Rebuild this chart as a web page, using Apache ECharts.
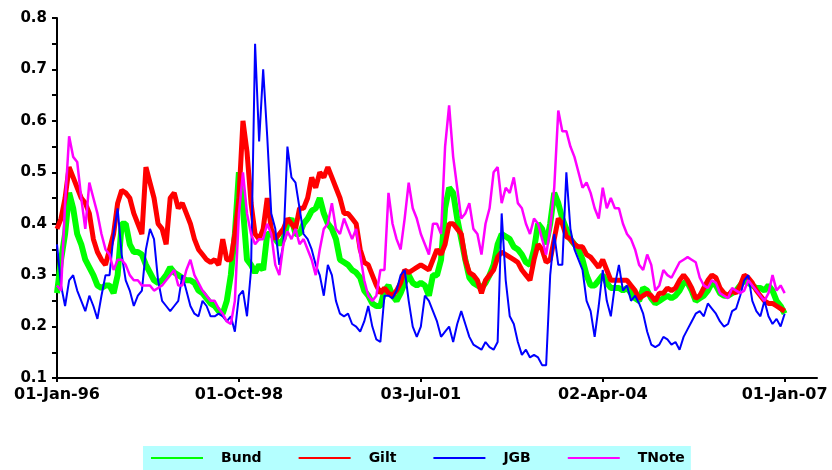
<!DOCTYPE html>
<html><head><meta charset="utf-8">
<script src="https://cdn.jsdelivr.net/npm/echarts@6/dist/echarts.min.js"></script>
<style>html,body{margin:0;padding:0;background:#fff}#c{width:832px;height:470px}</style>
</head><body><div id="c"></div>
<script>
// Tick labels
const xTickLabels = ['01-Jan-96', '01-Oct-98', '03-Jul-01', '02-Apr-04', '01-Jan-07'];
const xTickIndex = [0, 45, 90, 135, 180];
const seriesNames = ['Bund', 'Gilt', 'JGB', 'TNote'];

// Values sampled on an even time grid (181 samples, 01-Jan-96 .. 01-Jan-07)
const bund = [
0.265,0.33,0.38,0.46,0.43,0.38,0.36,0.33,0.315,0.30,0.28,0.275,0.28,0.28,0.265,0.30,0.40,0.40,0.36,0.345,0.345,0.34,0.32,0.305,0.29,0.285,0.29,0.30,0.315,0.305,0.30,0.295,0.29,0.29,0.285,0.27,0.265,0.255,0.245,0.24,0.23,0.225,0.25,0.30,0.38,0.50,
0.43,0.33,0.32,0.305,0.32,0.31,0.38,0.38,0.37,0.36,0.37,0.40,0.41,0.38,0.38,0.40,0.41,0.425,0.43,0.45,0.42,0.40,0.39,0.37,0.33,0.325,0.32,0.31,0.305,0.295,0.27,0.26,0.245,0.24,0.24,0.27,0.28,0.26,0.25,0.265,0.285,0.30,0.285,0.28,0.285,
0.28,0.26,0.30,0.30,0.33,0.43,0.47,0.46,0.41,0.37,0.33,0.295,0.285,0.28,0.275,0.285,0.30,0.32,0.36,0.38,0.375,0.37,0.355,0.35,0.34,0.325,0.32,0.35,0.40,0.39,0.36,0.40,0.46,0.44,0.41,0.39,0.37,0.36,0.35,0.33,0.30,0.28,0.28,0.29,0.30,
0.285,0.275,0.275,0.275,0.27,0.275,0.265,0.255,0.25,0.275,0.27,0.255,0.245,0.25,0.255,0.26,0.255,0.26,0.27,0.285,0.285,0.27,0.25,0.255,0.26,0.27,0.285,0.28,0.265,0.26,0.26,0.265,0.27,0.28,0.29,0.285,0.28,0.275,0.275,0.27,0.28,0.27,0.25,0.24,0.225
];
const gilt = [
0.39,0.41,0.45,0.51,0.49,0.47,0.45,0.44,0.42,0.37,0.345,0.33,0.32,0.35,0.38,0.44,0.465,0.46,0.45,0.42,0.40,0.38,0.51,0.48,0.45,0.40,0.39,0.36,0.45,0.46,0.43,0.44,0.42,0.40,0.37,0.35,0.34,0.33,0.325,0.33,0.32,0.37,0.33,0.33,0.38,0.45,
0.60,0.54,0.44,0.38,0.37,0.39,0.45,0.39,0.37,0.38,0.39,0.41,0.40,0.39,0.43,0.43,0.45,0.49,0.47,0.50,0.49,0.51,0.49,0.47,0.45,0.42,0.42,0.41,0.40,0.35,0.325,0.32,0.30,0.28,0.265,0.275,0.265,0.26,0.27,0.285,0.31,0.305,0.31,0.315,0.32,
0.315,0.31,0.33,0.35,0.34,0.36,0.40,0.40,0.39,0.38,0.33,0.305,0.30,0.29,0.265,0.29,0.30,0.31,0.335,0.345,0.34,0.335,0.33,0.325,0.31,0.30,0.29,0.33,0.36,0.35,0.325,0.33,0.37,0.41,0.40,0.375,0.37,0.36,0.355,0.355,0.34,0.335,0.325,0.315,0.33,
0.31,0.29,0.29,0.29,0.29,0.29,0.28,0.27,0.255,0.26,0.265,0.26,0.25,0.265,0.265,0.275,0.27,0.275,0.29,0.30,0.29,0.275,0.255,0.26,0.275,0.29,0.30,0.295,0.275,0.265,0.26,0.27,0.265,0.28,0.30,0.295,0.285,0.27,0.26,0.25,0.245,0.245,0.24,0.235,0.23
];
const jgb = [
0.36,0.28,0.24,0.29,0.30,0.27,0.25,0.23,0.26,0.24,0.215,0.26,0.30,0.30,0.38,0.43,0.34,0.29,0.27,0.24,0.26,0.27,0.35,0.39,0.37,0.29,0.25,0.24,0.23,0.24,0.25,0.30,0.27,0.24,0.225,0.22,0.25,0.24,0.22,0.22,0.225,0.22,0.21,0.22,0.19,0.26,
0.27,0.22,0.31,0.75,0.56,0.70,0.57,0.42,0.39,0.32,0.36,0.55,0.49,0.48,0.43,0.38,0.37,0.35,0.32,0.30,0.26,0.32,0.30,0.25,0.225,0.22,0.225,0.205,0.20,0.19,0.21,0.24,0.20,0.175,0.17,0.26,0.26,0.255,0.27,0.30,0.31,0.25,0.20,0.18,0.20,
0.26,0.25,0.23,0.21,0.18,0.19,0.20,0.17,0.205,0.23,0.205,0.18,0.165,0.16,0.155,0.17,0.16,0.155,0.17,0.42,0.29,0.22,0.205,0.17,0.145,0.155,0.14,0.145,0.14,0.125,0.125,0.30,0.38,0.32,0.32,0.50,0.39,0.35,0.33,0.31,0.25,0.23,0.18,0.24,0.31,
0.25,0.22,0.28,0.32,0.27,0.28,0.25,0.26,0.245,0.225,0.19,0.165,0.16,0.165,0.18,0.175,0.165,0.17,0.155,0.18,0.195,0.21,0.225,0.23,0.22,0.245,0.235,0.225,0.21,0.20,0.205,0.23,0.235,0.26,0.29,0.30,0.25,0.23,0.22,0.25,0.22,0.205,0.215,0.20,0.225
];
const tnote = [
0.28,0.27,0.44,0.57,0.53,0.52,0.45,0.39,0.48,0.45,0.42,0.38,0.35,0.34,0.31,0.33,0.33,0.32,0.30,0.29,0.29,0.28,0.28,0.28,0.27,0.275,0.28,0.29,0.30,0.31,0.28,0.28,0.31,0.33,0.30,0.285,0.27,0.26,0.25,0.25,0.235,0.225,0.21,0.205,0.25,0.42,
0.50,0.42,0.38,0.36,0.37,0.37,0.40,0.38,0.32,0.30,0.36,0.385,0.37,0.39,0.36,0.37,0.35,0.33,0.30,0.35,0.39,0.40,0.44,0.39,0.38,0.41,0.39,0.37,0.39,0.34,0.29,0.26,0.25,0.26,0.31,0.31,0.46,0.40,0.37,0.35,0.41,0.48,0.43,0.41,0.38,
0.36,0.34,0.40,0.40,0.38,0.55,0.63,0.53,0.47,0.41,0.42,0.44,0.39,0.38,0.34,0.40,0.43,0.50,0.51,0.44,0.47,0.46,0.49,0.44,0.43,0.40,0.38,0.41,0.40,0.37,0.34,0.39,0.47,0.62,0.58,0.58,0.55,0.53,0.50,0.47,0.48,0.46,0.43,0.41,0.47,
0.43,0.45,0.43,0.43,0.40,0.38,0.37,0.35,0.32,0.31,0.34,0.32,0.27,0.28,0.31,0.30,0.295,0.31,0.325,0.33,0.335,0.33,0.325,0.295,0.28,0.275,0.29,0.285,0.265,0.26,0.255,0.275,0.27,0.265,0.27,0.29,0.28,0.27,0.26,0.25,0.265,0.30,0.27,0.28,0.265
];

const seriesValues = [bund, gilt, jgb, tnote];
const seriesColors = ['#00ff00', '#ff0000', '#0000ff', '#ff00ff'];
const seriesWidths = [6, 5, 2, 2.5];

const FONT = 'DejaVu Sans';
const chart = echarts.init(document.getElementById('c'), null, {renderer: 'canvas'});
chart.setOption({
  animation: false,
  backgroundColor: '#ffffff',
  grid: {left: 57, right: 15, top: 18, bottom: 92, containLabel: false},
  xAxis: {
    type: 'value', min: 0, max: 188, interval: 45,
    splitLine: {show: false},
    axisLine: {lineStyle: {color: '#000', width: 2}},
    axisTick: {customValues: xTickIndex, length: 4, lineStyle: {color: '#000', width: 2}},
    axisLabel: {
      customValues: xTickIndex,
      margin: 9, color: '#000', fontFamily: FONT, fontWeight: 'bold', fontSize: 16,
      formatter: v => { const k = xTickIndex.indexOf(Math.round(v)); return k >= 0 ? xTickLabels[k] : ''; }
    }
  },
  yAxis: {
    type: 'value', min: 0.1, max: 0.8, interval: 0.05,
    splitLine: {show: false},
    axisLine: {onZero: false, lineStyle: {color: '#000', width: 2}},
    axisTick: {length: 5, lineStyle: {color: '#000', width: 2}},
    axisLabel: {
      margin: 10, color: '#000', fontFamily: FONT, fontWeight: 'bold', fontSize: 15,
      formatter: v => (Math.abs(Math.round(v * 10) - v * 10) < 1e-6) ? v.toFixed(1) : ''
    }
  },
  legend: {
    data: seriesNames,
    left: 143, top: 446,
    backgroundColor: '#b4ffff',
    padding: [5, 6, 6, 7],
    itemWidth: 52, itemHeight: 14, itemGap: 36,
    itemStyle: {color: 'rgba(0,0,0,0)', borderColor: 'rgba(0,0,0,0)', borderWidth: 0},
    textStyle: {fontFamily: FONT, fontWeight: 'bold', fontSize: 14, color: '#000', padding: [0, 0, 0, 13]}
  },
  series: seriesNames.map((name, s) => ({
    name: name,
    type: 'line',
    symbol: 'none',
    showSymbol: false,
    color: seriesColors[s],
    lineStyle: {color: seriesColors[s], width: seriesWidths[s]},
    data: seriesValues[s].map((v, i) => [i, v])
  }))
});
</script>
</body></html>
